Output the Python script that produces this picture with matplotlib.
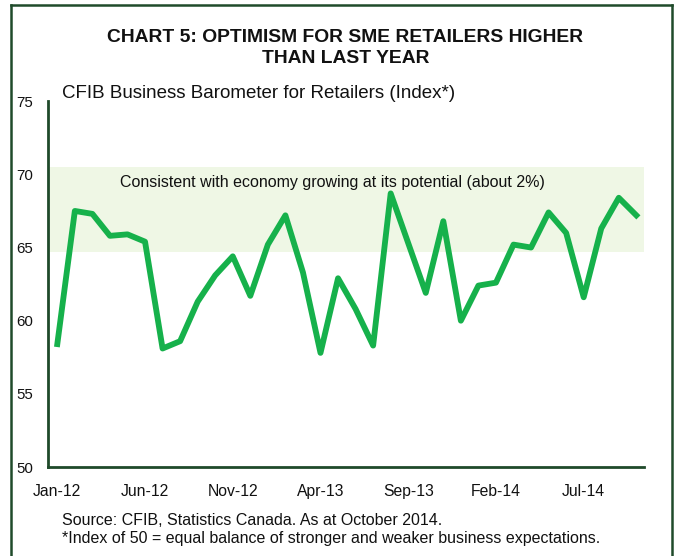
import matplotlib.pyplot as plt

plt.rcParams["font.family"] = ["Liberation Sans", "DejaVu Sans"]

# ---- data: CFIB Business Barometer for Retailers, Jan-12 .. Oct-14 ----
index_values = [
    58.4, 67.5, 67.3, 65.8, 65.9, 65.4, 58.1, 58.6, 61.3, 63.1,
    64.4, 61.7, 65.2, 67.2, 63.3, 57.8, 62.9, 60.8, 58.3, 68.7,
    65.3, 61.9, 66.8, 60.0, 62.4, 62.6, 65.2, 65.0, 67.4, 66.0,
    61.6, 66.3, 68.4, 67.2,
]
tick_labels = ["Jan-12", "Jun-12", "Nov-12", "Apr-13", "Sep-13", "Feb-14", "Jul-14"]
band_low, band_high = 64.7, 70.5

GREEN = "#16b14b"
DARK = "#1f4a2a"

fig = plt.figure(figsize=(6.76, 5.56), dpi=100)
ax = fig.add_axes([0.071, 0.160, 0.882, 0.658])

x = list(range(len(index_values)))
ax.axhspan(band_low, band_high, color="#eff7e5", zorder=0, lw=0)
ax.plot(x, index_values, color=GREEN, lw=4.2, solid_joinstyle="round", zorder=3)

ax.text(15.7, 69.45, "Consistent with economy growing at its potential (about 2%)",
        fontsize=11.5, ha="center", va="center", color="#111111")

ax.set_xlim(-0.53, 33.45)
ax.set_ylim(50, 75)
ax.set_yticks([50, 55, 60, 65, 70, 75])
ax.set_xticks(range(0, len(index_values), 5))
ax.set_xticklabels(tick_labels)
ax.tick_params(length=0, colors="#111111")
ax.tick_params(axis="y", pad=10.5, labelsize=10.8)
ax.tick_params(axis="x", pad=12, labelsize=11.3)

for s in ["top", "right"]:
    ax.spines[s].set_visible(False)
for s in ["left", "bottom"]:
    ax.spines[s].set_color(DARK)
    ax.spines[s].set_linewidth(2)

# titles and notes
fig.text(0.511, 0.914, "CHART 5: OPTIMISM FOR SME RETAILERS HIGHER\nTHAN LAST YEAR",
         ha="center", va="center", fontsize=13.9, fontweight="bold",
         linespacing=1.35, color="#111111")
fig.text(0.092, 0.832, "CFIB Business Barometer for Retailers (Index*)",
         fontsize=13.5, ha="left", va="center", color="#111111")
fig.text(0.092, 0.063, "Source: CFIB, Statistics Canada. As at October 2014.",
         fontsize=11.5, ha="left", va="center", color="#111111")
fig.text(0.092, 0.031, "*Index of 50 = equal balance of stronger and weaker business expectations.",
         fontsize=11.5, ha="left", va="center", color="#111111")

# outer frame (no bottom edge)
W, H = 676, 556
for xs, ys in [([11 / W, 11 / W], [0, 1 - 5 / H]),
               ([11 / W, 672 / W], [1 - 5 / H, 1 - 5 / H]),
               ([672 / W, 672 / W], [1 - 5 / H, 0])]:
    fig.add_artist(plt.Line2D(xs, ys, color=DARK, lw=1.8, transform=fig.transFigure))

fig.savefig("out.png", dpi=100)
